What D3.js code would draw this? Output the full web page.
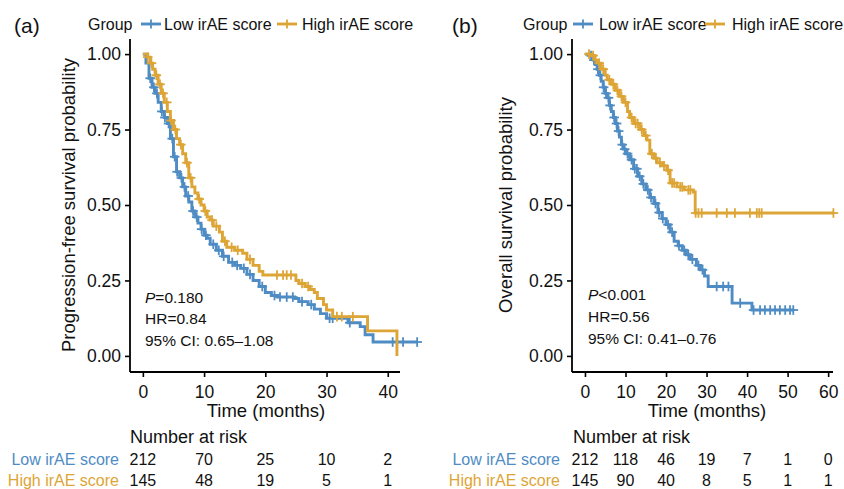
<!DOCTYPE html>
<html><head><meta charset="utf-8">
<script src="https://cdn.jsdelivr.net/npm/d3@7"></script>
<style>
html,body{margin:0;padding:0;background:#fff;}
svg{display:block;font-family:"Liberation Sans",Arial,sans-serif;}
</style></head><body>
<svg id="chart" width="844" height="489"></svg>
<script>
// ---------- DATA ----------
const groups = ["Low irAE score", "High irAE score"];
const groupColors = ["#4F8CC4", "#DDA536"];

// Panel (a) progression-free survival
const pfsLowT = [0,0.5,1.0,1.5,2.0,2.5,3.0,3.5,4.0,4.5,5.0,5.5,6.0,6.5,7.0,7.5,8.0,8.5,9.0,9.5,10.0,10.5,11.0,12.0,13.0,14.0,15.0,16.0,17.0,18.0,19.0,20.0,21.0,22.0,24.8,25.5,27.0,28.0,29.0,30.0,33.5,35.5,36.3,37.6];
const pfsLowS = [1.0,0.97,0.92,0.89,0.87,0.84,0.81,0.79,0.77,0.72,0.66,0.61,0.59,0.56,0.53,0.51,0.48,0.46,0.44,0.42,0.40,0.39,0.37,0.35,0.33,0.31,0.30,0.29,0.27,0.25,0.23,0.21,0.20,0.195,0.19,0.18,0.17,0.155,0.14,0.125,0.11,0.097,0.07,0.046];
const pfsLowCens = [1.2,1.8,2.3,3.1,3.6,4.2,4.8,5.2,5.6,6.3,6.8,7.4,8.2,8.8,9.6,10.3,11.5,12.4,13.2,14.6,15.4,16.5,17.5,19.5,21.5,22.4,23.5,24.5,26.0,27.5,30.5,31.0,33.8,40.8,42.5,44.8];
const pfsHighT = [0,0.8,1.2,1.6,2.0,2.5,3.0,3.5,4.0,4.5,5.0,5.5,6.0,6.5,7.0,7.5,8.0,8.5,9.0,9.5,10.0,10.5,11.0,11.5,12.5,13.0,13.7,15.0,16.3,17.0,18.0,19.0,19.6,25.0,25.5,26.5,27.3,28.0,28.5,29.5,30.0,31.0,36.7,41.5];
const pfsHighS = [1.0,0.99,0.97,0.95,0.93,0.90,0.87,0.84,0.81,0.78,0.75,0.72,0.70,0.67,0.64,0.59,0.56,0.54,0.52,0.50,0.48,0.46,0.45,0.43,0.41,0.38,0.36,0.35,0.34,0.32,0.30,0.28,0.268,0.25,0.24,0.23,0.22,0.21,0.19,0.17,0.152,0.13,0.083,0.0];
const pfsHighCens = [0.8,1.4,2.2,2.8,3.3,3.9,4.6,5.3,6.2,7.2,7.8,9.2,10.2,11.3,12.0,13.4,14.5,15.5,17.5,21.9,22.9,23.5,24.2,26.0,27.0,31.7,32.5,34.3];

// Panel (b) overall survival
const osLowT = [0,1.0,2.0,2.5,3.0,3.5,4.0,4.5,5.0,5.5,6.0,6.5,7.0,7.5,8.0,8.5,9.0,9.5,10.0,11.0,12.0,13.0,14.0,15.0,16.0,17.0,18.0,19.0,20.0,21.0,22.0,23.0,24.0,25.0,26.0,27.5,28.5,29.5,30.4,36.3,41.2];
const osLowS = [1.0,0.995,0.98,0.965,0.95,0.93,0.91,0.89,0.87,0.855,0.83,0.81,0.79,0.77,0.745,0.725,0.70,0.685,0.67,0.65,0.62,0.595,0.57,0.55,0.525,0.505,0.475,0.455,0.435,0.41,0.38,0.365,0.35,0.335,0.32,0.30,0.285,0.265,0.23,0.175,0.152];
const osLowCens = [1.5,2.2,3.2,3.8,4.6,5.2,5.8,6.2,7.2,7.8,8.3,9.2,9.8,10.5,11.5,12.3,12.8,13.5,14.4,15.5,16.3,17.4,18.3,19.2,20.5,21.5,23.2,24.5,25.5,26.5,28.0,29.0,32.5,34.1,35.4,38.3,41.6,43.2,44.4,45.7,46.9,48.1,49.4,50.6,51.4];
const osHighT = [0,1.5,2.5,3.0,4.0,5.0,5.5,6.5,7.5,8.5,9.5,10.5,11.0,12.0,13.5,14.5,15.3,16.0,17.0,17.8,19.0,20.2,21.0,22.7,24.5,26.7,27.2];
const osHighS = [1.0,0.995,0.98,0.97,0.95,0.93,0.915,0.90,0.88,0.86,0.84,0.81,0.79,0.77,0.75,0.73,0.715,0.67,0.655,0.64,0.63,0.615,0.573,0.56,0.55,0.543,0.4735];
const osHighCens = [1.0,2.0,3.5,4.5,6.0,7.0,8.0,9.0,10.0,11.5,12.5,13.0,14.0,15.0,16.5,17.5,18.5,19.5,20.5,21.5,22.0,23.5,24.0,25.5,26.0,27.3,28.0,28.8,32.5,35.0,37.0,40.7,42.4,43.0,43.6,61.3];

const yTicks = [0, 0.25, 0.5, 0.75, 1.0];
const xTicksA = [0, 10, 20, 30, 40];
const xTicksB = [0, 10, 20, 30, 40, 50, 60];
const riskA = [[212,70,25,10,2],[145,48,19,5,1]];
const riskB = [[212,118,46,19,7,1,0],[145,90,40,8,5,1,1]];

// ---------- DRAW ----------
const svg = d3.select("#chart");
const FONT = '"Liberation Sans",Arial,sans-serif';

function stepSurv(T, S, t){
  let s = S[0];
  for (let i=0;i<T.length;i++){ if (T[i] <= t) s = S[i]; }
  return s;
}

function panel(cfg){
  const x = d3.scaleLinear().domain(cfg.xDomain).range(cfg.xRange);
  const y = d3.scaleLinear().domain([-0.05, 1.05]).range([371, 39]);
  const g = svg.append("g");

  // axes
  const xAxis = d3.axisBottom(x).tickValues(cfg.xTicks).tickSize(5).tickPadding(4).tickFormat(d3.format("d"));
  const gx = g.append("g").attr("transform","translate(0,372)").call(xAxis);
  const yAxis = d3.axisLeft(y).tickValues(yTicks).tickSize(5).tickPadding(4).tickFormat(d3.format(".2f"));
  const gy = g.append("g").attr("transform",`translate(${cfg.xRange[0]},0)`).call(yAxis);
  [gx, gy].forEach(a=>{
    a.select(".domain").attr("stroke","#000").attr("stroke-width",1.8);
    a.selectAll(".tick line").attr("stroke","#000").attr("stroke-width",1.6);
    a.selectAll(".tick text").attr("fill","#111").style("font-size","17.5px").style("font-family",FONT);
  });
  gx.select(".domain").attr("d",`M${cfg.xRange[0]},0H${cfg.xRange[1]}`);
  gy.select(".domain").attr("d",`M0,${y.range()[0]+1}V${y.range()[1]}`);
  gx.selectAll(".tick text").attr("dy","0.95em");

  // curves
  cfg.curves.forEach((c,i)=>{
    const end = Math.max(d3.max(c.T), d3.max(c.C));
    const pts = c.T.map((t,j)=>[t, c.S[j]]);
    pts.push([end, c.S[c.S.length-1]]);
    const line = d3.line().x(d=>x(d[0])).y(d=>y(d[1])).curve(d3.curveStepAfter);
    g.append("path").datum(pts).attr("d",line).attr("fill","none")
      .attr("stroke",groupColors[i]).attr("stroke-width",2.9);
    const cg = g.append("g").attr("stroke",groupColors[i]).attr("stroke-width",1.8);
    c.C.forEach(t=>{
      const px = x(t), py = y(stepSurv(c.T,c.S,t));
      cg.append("line").attr("x1",px).attr("x2",px).attr("y1",py-4.8).attr("y2",py+4.8);
      cg.append("line").attr("x1",px-4.8).attr("x2",px+4.8).attr("y1",py).attr("y2",py);
    });
  });

  // axis titles
  svg.append("text").attr("x",cfg.xTitleX).attr("y",417).attr("text-anchor","middle")
    .style("font-size","18.5px").attr("fill","#111").text("Time (months)");
  svg.append("text").attr("transform",`translate(${cfg.yTitleX},205) rotate(-90)`)
    .attr("text-anchor","middle").style("font-size","18.5px").attr("fill","#111").text(cfg.yTitle);

  // panel letter
  svg.append("text").attr("x",cfg.letterX).attr("y",33).style("font-size","21px").attr("fill","#111").text(cfg.letter);

  // legend
  const lg = svg.append("g").style("font-size","16px");
  lg.append("text").attr("x",cfg.legend.group).attr("y",29.5).attr("fill","#111").text("Group");
  groups.forEach((name,i)=>{
    const kx = cfg.legend.keys[i];
    lg.append("line").attr("x1",kx).attr("x2",kx+20).attr("y1",24).attr("y2",24)
      .attr("stroke",groupColors[i]).attr("stroke-width",2.9);
    lg.append("line").attr("x1",kx+10).attr("x2",kx+10).attr("y1",19.5).attr("y2",28.5)
      .attr("stroke",groupColors[i]).attr("stroke-width",1.8);
    lg.append("text").attr("x",cfg.legend.labels[i]).attr("y",29.5).attr("fill","#111").text(name);
  });

  // stats annotation
  const ag = svg.append("g").style("font-size","15.5px").attr("fill","#111");
  const t1 = ag.append("text").attr("x",cfg.annX).attr("y",cfg.annY[0]);
  t1.append("tspan").style("font-style","italic").text("P");
  t1.append("tspan").text(cfg.stats[0]);
  ag.append("text").attr("x",cfg.annX).attr("y",cfg.annY[1]).text(cfg.stats[1]);
  ag.append("text").attr("x",cfg.annX).attr("y",cfg.annY[2]).text(cfg.stats[2]);

  // risk table
  svg.append("text").attr("x",cfg.riskTitleX).attr("y",443).style("font-size","18px").attr("fill","#111").text("Number at risk");
  groups.forEach((name,i)=>{
    const ry = [465,486][i];
    svg.append("text").attr("x",cfg.riskLabelX).attr("y",ry).attr("text-anchor","end")
      .style("font-size","16px").attr("fill",groupColors[i]).text(name);
    cfg.risk[i].forEach((n,j)=>{
      svg.append("text").attr("x",x(cfg.xTicks[j])).attr("y",ry).attr("text-anchor","middle")
        .style("font-size","16px").attr("fill","#111").text(n);
    });
  });
}

panel({
  xDomain:[-2.1,42.0], xRange:[130,400], xTicks:xTicksA,
  curves:[{T:pfsLowT,S:pfsLowS,C:pfsLowCens},{T:pfsHighT,S:pfsHighS,C:pfsHighCens}],
  xTitleX:266, yTitleX:75, yTitle:"Progression-free survival probability",
  letter:"(a)", letterX:14,
  legend:{group:88, keys:[141,277], labels:[164,302]},
  annX:145, annY:[303,324,346], stats:["=0.180","HR=0.84","95% CI: 0.65–1.08"],
  riskTitleX:130, riskLabelX:119, risk:riskA
});
panel({
  xDomain:[-3.2,61.2], xRange:[572,833], xTicks:xTicksB,
  curves:[{T:osLowT,S:osLowS,C:osLowCens},{T:osHighT,S:osHighS,C:osHighCens}],
  xTitleX:707, yTitleX:512, yTitle:"Overall survival probability",
  letter:"(b)", letterX:452,
  legend:{group:523, keys:[573,705], labels:[599,732]},
  annX:588, annY:[300,322,344], stats:["<0.001","HR=0.56","95% CI: 0.41–0.76"],
  riskTitleX:573, riskLabelX:560, risk:riskB
});
</script>
</body></html>
